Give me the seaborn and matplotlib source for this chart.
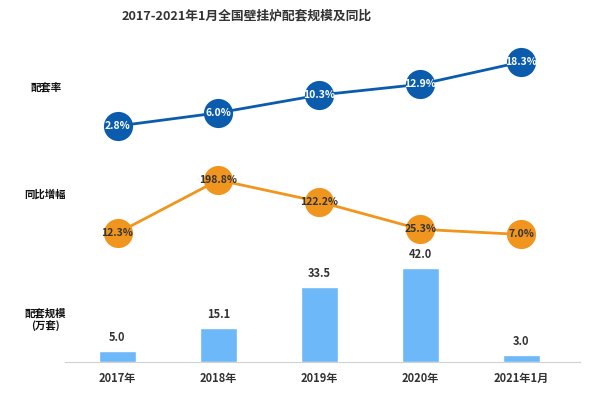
#============================= IMPORT LIBRARIES =============================

import numpy as np
import pandas as pd
import seaborn as sns
import matplotlib
matplotlib.use("Agg")
import matplotlib.pyplot as plt

#============================= DATA ==============================

years = ["2017年", "2018年", "2019年", "2020年", "2021年1月"]
match_rate = [2.8, 6.0, 10.3, 12.9, 18.3]        # 配套率 %
yoy_growth = [12.3, 198.8, 122.2, 25.3, 7.0]     # 同比增幅 %
scale = [5.0, 15.1, 33.5, 42.0, 3.0]             # 配套规模 万套

title = "2017-2021年1月全国壁挂炉配套规模及同比"

#============================= STYLE ==============================

sns.set_style("white")
plt.rcParams['font.family'] = ['Noto Sans CJK SC', 'DejaVu Sans']
plt.rcParams['axes.unicode_minus'] = False

blue = "#0B5CAD"
orange = "#F0961E"
bar_c = "#6DB8F8"
txt = "#333333"

df = pd.DataFrame({"year": years, "idx": np.arange(len(years)),
                   "rate": match_rate, "yoy": yoy_growth, "scale": scale})

W, H = 596, 393
fig = plt.figure(figsize=(W / 100, H / 100), dpi=100)

def box(top, bottom):
    # pixel rows -> figure fraction
    return [65 / W, 1 - bottom / H, 515 / W, (bottom - top) / H]

xlim = (-0.52, 4.58)

#==== bars ====
ax_bar = fig.add_axes(box(240, 362))
sns.barplot(data=df, x="year", y="scale", color=bar_c, width=0.36,
            saturation=1, ax=ax_bar)
ax_bar.set_ylim(0, 122 / 2.24)
ax_bar.set_xlim(*xlim)
for i, v in enumerate(scale):
    ax_bar.text(i, v + 3.2, f"{v:.1f}", ha="center", va="bottom",
                fontsize=8, fontweight="bold", color=txt)
ax_bar.set_xlabel("")
ax_bar.set_ylabel("")
ax_bar.set_yticks([])
for s in ["top", "right", "left"]:
    ax_bar.spines[s].set_visible(False)
ax_bar.spines["bottom"].set_color("#d0d0d0")
ax_bar.set_xticks(range(len(years)))
ax_bar.set_xticklabels(years, fontsize=8, fontweight="bold", color=txt)
ax_bar.tick_params(axis="x", which="major", length=0, pad=7)
ax_bar.set_xticks(np.arange(-0.5, 5, 1), minor=True)
ax_bar.tick_params(axis="x", which="minor", length=4, color="#d0d0d0")
ax_bar.patch.set_alpha(0)

#==== yoy line ====
ax_yoy = fig.add_axes(box(160, 250))
sns.lineplot(data=df, x="idx", y="yoy", color=orange, linewidth=2,
             marker="o", markersize=21, markeredgewidth=0, ax=ax_yoy)
ax_yoy.set_ylim(-47.6, 269.3)
for i, v in enumerate(yoy_growth):
    ax_yoy.text(i, v, f"{v:.1f}%", ha="center", va="center",
                fontsize=7.5, fontweight="bold", color=txt)

#==== rate line ====
ax_rate = fig.add_axes(box(40, 145))
sns.lineplot(data=df, x="idx", y="rate", color=blue, linewidth=2,
             marker="o", markersize=21, markeredgewidth=0, ax=ax_rate)
ax_rate.set_ylim(-1.8, 23.62)
for i, v in enumerate(match_rate):
    ax_rate.text(i, v, f"{v:.1f}%", ha="center", va="center",
                 fontsize=7.5, fontweight="bold", color="white")

for ax in [ax_yoy, ax_rate]:
    ax.set_xlim(*xlim)
    ax.axis("off")

#==== labels ====
fig.text(247 / W, 1 - 16 / H, title, ha="center", va="center",
         fontsize=9.2, fontweight="bold", color=txt)
fig.text(46 / W, 1 - 88 / H, "配套率", ha="center", va="center",
         fontsize=7.5, fontweight="bold", color="#111111")
fig.text(45 / W, 1 - 194 / H, "同比增幅", ha="center", va="center",
         fontsize=7.5, fontweight="bold", color="#111111")
fig.text(45 / W, 1 - 320 / H, "配套规模\n(万套)", ha="center", va="center",
         fontsize=7.5, fontweight="bold", color="#111111", linespacing=1.25)

fig.savefig("out.png", dpi=100, facecolor="white")
